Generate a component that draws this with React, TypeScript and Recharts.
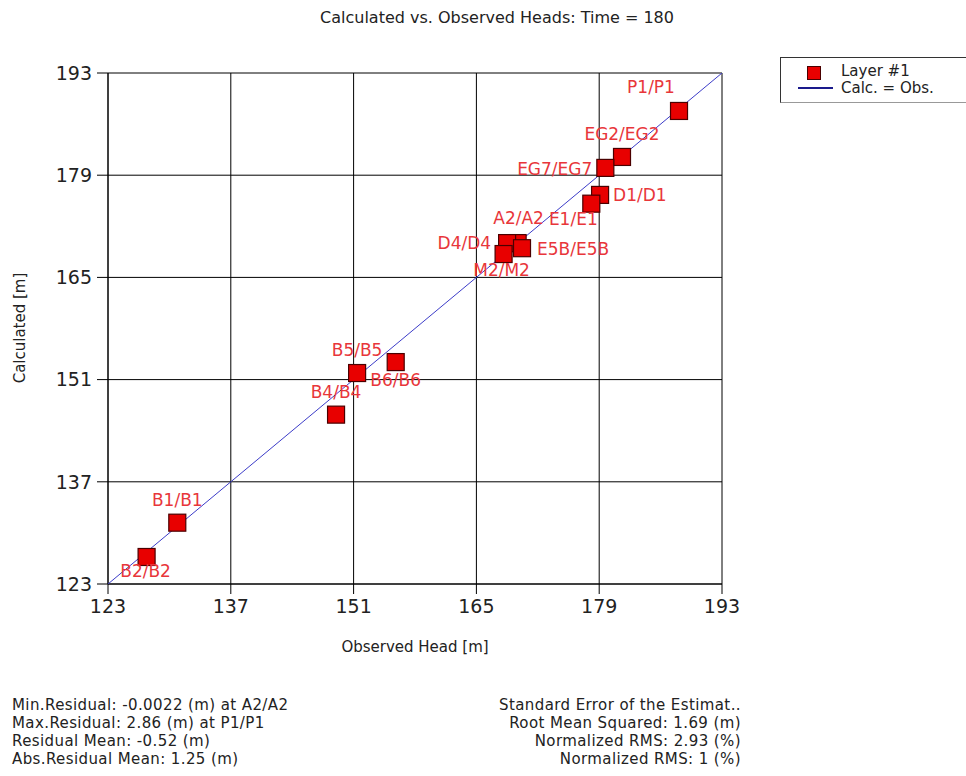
import React from "react";
import { ScatterChart, Scatter, XAxis, YAxis, CartesianGrid } from "recharts";

// observation wells: observed vs calculated head [m]
const wellNames = [
  "P1/P1", "EG2/EG2", "EG7/EG7", "D1/D1", "E1/E1", "A2/A2", "D4/D4",
  "E5B/E5B", "M2/M2", "B5/B5", "B6/B6", "B4/B4", "B1/B1", "B2/B2",
];
const observedHead = [188.1, 181.6, 179.7, 179.1, 178.1, 169.7, 168.5, 170.2, 168.1, 151.4, 155.8, 149.0, 130.9, 127.4];
const calculatedHead = [187.8, 181.5, 180.0, 176.3, 175.1, 169.7, 169.7, 169.0, 168.2, 151.9, 153.4, 146.2, 131.4, 126.7];

const axisTicks = [123, 137, 151, 165, 179, 193];
const identityLine = [123, 193];

const statsLeft = [
  "Min.Residual: -0.0022 (m) at A2/A2",
  "Max.Residual: 2.86 (m) at P1/P1",
  "Residual Mean: -0.52 (m)",
  "Abs.Residual Mean: 1.25 (m)",
];
const statsRight = [
  "Standard Error of the  Estimat..",
  "Root Mean Squared: 1.69 (m)",
  "Normalized RMS: 2.93 (%)",
  "Normalized RMS: 1 (%)",
];

// where each label sits relative to its square: dx, dy, anchor
const labelPlace: Record<string, [number, number, string]> = {
  "P1/P1": [-28, -24, "middle"],
  "EG2/EG2": [0, -23, "middle"],
  "EG7/EG7": [-13, 1, "end"],
  "D1/D1": [13, 0, "start"],
  "E1/E1": [-18, 15, "middle"],
  "A2/A2": [1, -25, "middle"],
  "D4/D4": [-16, 0, "end"],
  "E5B/E5B": [15, 1, "start"],
  "M2/M2": [-2, 16, "middle"],
  "B5/B5": [0, -23, "middle"],
  "B6/B6": [0, 18, "middle"],
  "B4/B4": [0, -23, "middle"],
  "B1/B1": [0, -23, "middle"],
  "B2/B2": [-1, 14, "middle"],
};

const points = wellNames.map((name, i) => ({ name, x: observedHead[i], y: calculatedHead[i] }));
const lineData = identityLine.map((v) => ({ x: v, y: v }));

const font = "'DejaVu Sans', sans-serif";
const tickStyle = { fontSize: 19, fontFamily: font, fill: "#222" };

const WellMarker = (props: any) => {
  const { cx, cy, payload } = props;
  const [dx, dy, anchor] = labelPlace[payload.name] || [0, -22, "middle"];
  const s = 17;
  return (
    <g>
      <rect x={cx - s / 2} y={cy - s / 2} width={s} height={s} fill="#e80000" stroke="#4a0000" strokeWidth={1.2} />
      <text x={cx + dx} y={cy + dy} dy="0.35em" textAnchor={anchor as any} fontSize={17} fontFamily={font} fill="#e8363a">
        {payload.name}
      </text>
    </g>
  );
};

export default function App() {
  const textBase: React.CSSProperties = { position: "absolute", fontFamily: font, color: "#222", whiteSpace: "nowrap" };
  const statsText: React.CSSProperties = { ...textBase, top: 696, fontSize: 15, lineHeight: "18px", letterSpacing: 0.4 };
  return (
    <div style={{ position: "absolute", left: 0, top: 0, width: 966, height: 776, background: "#fff", overflow: "hidden" }}>
      <ScatterChart width={966} height={776} margin={{ top: 73, right: 244, bottom: 152, left: 48 }}>
        <CartesianGrid stroke="#000" strokeWidth={1} />
        <XAxis
          type="number"
          dataKey="x"
          domain={[123, 193]}
          ticks={axisTicks}
          allowDataOverflow
          height={40}
          tickSize={10}
          tickMargin={6}
          tick={tickStyle}
          stroke="#000"
        />
        <YAxis
          type="number"
          dataKey="y"
          domain={[123, 193]}
          ticks={axisTicks}
          allowDataOverflow
          width={60}
          tickSize={11}
          tickMargin={5}
          tick={tickStyle}
          stroke="#000"
        />
        <Scatter
          data={lineData}
          line={{ stroke: "#3c3cc8", strokeWidth: 1 }}
          shape={() => <g />}
          isAnimationActive={false}
        />
        <Scatter data={points} shape={<WellMarker />} isAnimationActive={false} />
      </ScatterChart>

      <div style={{ ...textBase, left: 197, width: 600, top: 8, textAlign: "center", fontSize: 16 }}>
        Calculated vs. Observed Heads: Time = 180
      </div>
      <div style={{ ...textBase, left: 108, width: 614, top: 638, textAlign: "center", fontSize: 15 }}>
        Observed Head [m]
      </div>
      <div
        style={{
          ...textBase,
          left: 20,
          top: 328,
          fontSize: 15,
          transform: "translate(-50%, -50%) rotate(-90deg)",
        }}
      >
        Calculated [m]
      </div>

      <div
        style={{
          position: "absolute",
          left: 780,
          top: 57,
          width: 200,
          height: 44,
          borderLeft: "1px solid #333",
          borderTop: "1px solid #333",
          borderBottom: "1px solid #999",
        }}
      >
        <div style={{ position: "absolute", left: 26, top: 8, width: 12, height: 12, background: "#e80000", border: "1px solid #4a0000" }} />
        <div style={{ position: "absolute", left: 17, top: 29, width: 35, height: 2, background: "#1a1a8c" }} />
        <div style={{ ...textBase, left: 60, top: 4, fontSize: 15 }}>Layer #1</div>
        <div style={{ ...textBase, left: 60, top: 21, fontSize: 15 }}>Calc. = Obs.</div>
      </div>

      <div style={{ ...statsText, left: 12 }}>
        {statsLeft.map((s) => (
          <div key={s}>{s}</div>
        ))}
      </div>
      <div style={{ ...statsText, left: 441, width: 300, textAlign: "right" }}>
        {statsRight.map((s) => (
          <div key={s}>{s}</div>
        ))}
      </div>
    </div>
  );
}
